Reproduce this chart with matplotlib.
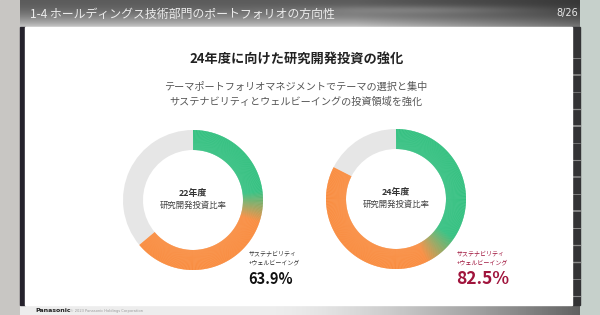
import numpy as np
import matplotlib
matplotlib.use("Agg")
import matplotlib.pyplot as plt
from matplotlib.patches import Wedge, Rectangle
from matplotlib.colors import to_rgb

# ---------------- data ----------------
years = ["22年度", "24年度"]
total_share = [63.9, 82.5]          # サステナビリティ+ウェルビーイング (%)
green_share = [26.5, 38.5]          # green part of the coloured arc (%)
center_label = "研究開発投資比率"
side_label = ["サステナビリティ", "+ウェルビーイング"]
pct_labels = ["63.9%", "82.5%"]

header_title = "1-4 ホールディングス技術部門のポートフォリオの方向性"
page_no = "8/26"
main_title = "24年度に向けた研究開発投資の強化"
subtitle = ["テーマポートフォリオマネジメントでテーマの選択と集中",
            "サステナビリティとウェルビーイングの投資領域を強化"]

# ---------------- style ----------------
JP = ["Noto Sans CJK JP", "DejaVu Sans"]
plt.rcParams["font.family"] = JP
GREEN = np.array(to_rgb("#31c07f"))
ORANGE = np.array(to_rgb("#f98b3d"))
GRAY = "#e6e6e6"

fig = plt.figure(figsize=(6, 3.15), dpi=100)
ax = fig.add_axes([0, 0, 1, 1])
ax.set_xlim(0, 600)
ax.set_ylim(315, 0)
ax.axis("off")

# backgrounds
ax.add_patch(Rectangle((0, 0), 20, 315, color="#c8c6c3", zorder=0))
ax.add_patch(Rectangle((580, 0), 20, 315, color="#c6d0cb", zorder=0))

# header gradient
H, W = 60, 280
yy = np.linspace(0, 1, H)[:, None]
xx = np.linspace(0, 1, W)[None, :]
base = 0.36 + 0.45 * yy ** 2.0
dark = np.clip((xx - 0.6) / 0.4, 0, 1)
val = base * (1 - 0.4 * dark) + 0.12 * np.exp(-((yy - 0.35) / 0.15) ** 2) * np.exp(-((xx - 0.72) / 0.2) ** 2)
img = np.dstack([val, val, val])
ax.imshow(np.clip(img, 0, 1), extent=(20, 580, 28, 0), aspect="auto", zorder=1, interpolation="bilinear")

# panel and side strips
ax.add_patch(Rectangle((20, 27), 5, 278, color="#25222c", zorder=2))
ax.add_patch(Rectangle((572, 27), 8, 278, color="#333335", zorder=2))
for yv, lw in zip(np.arange(58, 300, 17), [0.6, 1.2, 0.5, 0.9, 1.4, 0.5, 0.8, 1.1, 0.6, 1.3, 0.7, 0.9, 1.0, 0.6, 0.8]):
    ax.plot([572, 580], [yv, yv], color="#8a8a8a", lw=lw, zorder=2)
ax.add_patch(Rectangle((25, 27), 547, 278, color="white", zorder=2))

# bottom band
Hb, Wb = 10, 280
xb = np.linspace(0, 1, Wb)[None, :]
vb = 0.93 - 0.55 * np.clip((xb - 0.45) / 0.55, 0, 1) ** 1.5 + 0 * np.linspace(0, 1, Hb)[:, None]
ax.imshow(np.dstack([vb, vb, vb]), extent=(20, 580, 315, 305), aspect="auto", zorder=1)
ax.text(35, 311, "Panasonic", fontsize=4.5, fontweight="bold", color="#222222",
        va="center", ha="left", zorder=3, family="DejaVu Sans")
ax.text(70, 311, "© 2023 Panasonic Holdings Corporation", fontsize=2.6, color="#9a9a9a",
        va="center", ha="left", zorder=3, family="DejaVu Sans")

# header texts
ax.text(30, 14, header_title, fontsize=8.6, color="#ececec", va="center", ha="left", zorder=3)
ax.text(578, 13, page_no, fontsize=7, color="#e8e8e8", va="center", ha="right", zorder=3,
        family="DejaVu Sans")

# titles
ax.text(297, 59, main_title, fontsize=9.5, fontweight="bold", color="#222222",
        ha="center", va="center", zorder=3)
ax.text(296, 87, subtitle[0], fontsize=7.3, color="#555555", ha="center", va="center", zorder=3)
ax.text(296, 102, subtitle[1], fontsize=7.3, color="#555555", ha="center", va="center", zorder=3)

# donuts
centers = [(193, 200), (396, 199)]
R, WIDTH = 70, 20
blend = [26, 30]  # degrees of colour transition


def donut(cx, cy, total, green, bw):
    end = total * 3.6
    gend = green * 3.6
    # grey remainder
    ax.add_patch(Wedge((cx, cy), R, -90 + end, 270, width=WIDTH, color=GRAY, zorder=3, lw=0))
    # coloured arc, drawn in fine steps for the gradient
    steps = np.arange(0, end, 0.5)
    for a in steps:
        t = np.clip((a - (gend - bw / 2)) / bw, 0, 1)
        c = GREEN * (1 - t) + ORANGE * t
        a2 = min(a + 0.8, end)
        ax.add_patch(Wedge((cx, cy), R, -90 + a, -90 + a2, width=WIDTH,
                           facecolor=c, edgecolor="none", zorder=4))


for i, (cx, cy) in enumerate(centers):
    donut(cx, cy, total_share[i], green_share[i], blend[i])
    ax.text(cx, cy - 7, years[i], fontsize=6.4, fontweight="bold", color="#333333",
            ha="center", va="center", zorder=5)
    ax.text(cx, cy + 5, center_label, fontsize=6.0, color="#444444",
            ha="center", va="center", zorder=5)

# side labels
lab_x = [249, 457]
lab_col = ["#333333", "#a0143c"]
pct_size = [10.5, 12.5]
for i in range(2):
    ax.text(lab_x[i], 254, side_label[0], fontsize=4.3, color=lab_col[i], ha="left", va="center", zorder=5)
    ax.text(lab_x[i], 262, side_label[1], fontsize=4.3, color=lab_col[i], ha="left", va="center", zorder=5)
    ax.text(lab_x[i] - 1, 279, pct_labels[i], fontsize=pct_size[i], fontweight="bold",
            color=lab_col[i] if i == 1 else "#111111", ha="left", va="center", zorder=5)

fig.savefig("out.png", dpi=100)
